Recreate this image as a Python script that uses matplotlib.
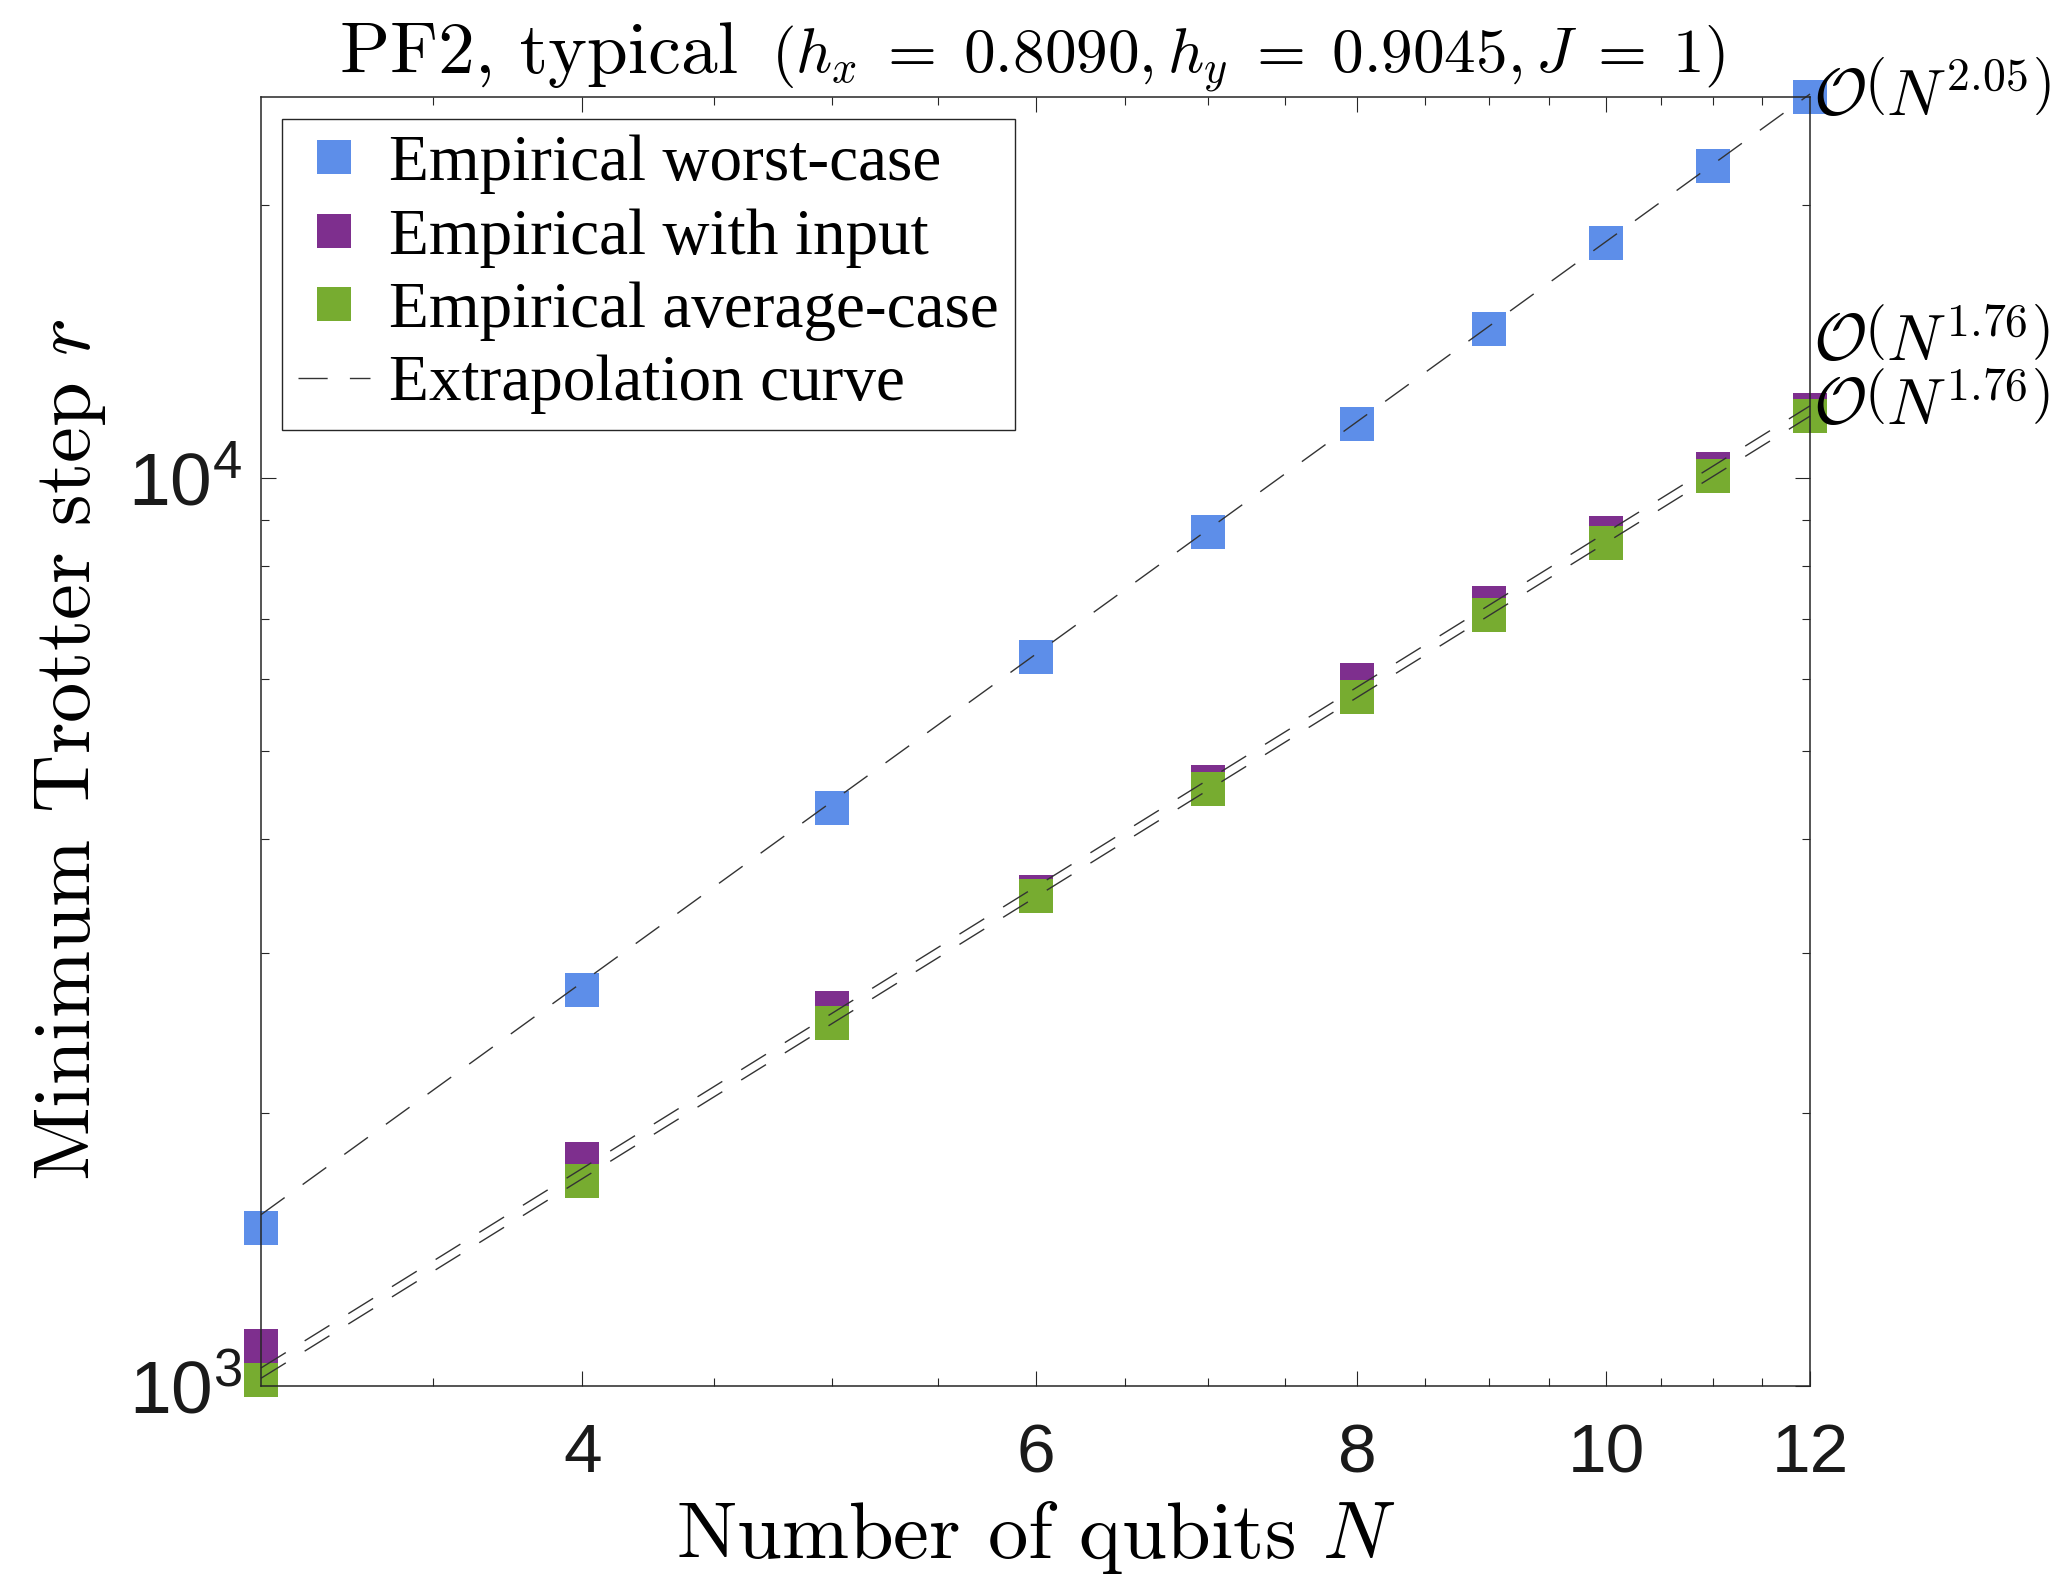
import matplotlib
matplotlib.use("Agg")
import numpy as np
import matplotlib.pyplot as plt
from matplotlib.lines import Line2D
from matplotlib.ticker import FixedLocator, FixedFormatter, NullFormatter

plt.rcParams["mathtext.fontset"] = "cm"
plt.rcParams["font.family"] = "Liberation Sans"
plt.rcParams["lines.scale_dashes"] = False

# data
N = [3, 4, 5, 6, 7, 8, 9, 10, 11, 12]
worst = [1493, 2728, 4332, 6357, 8727, 11467, 14590, 18136, 22063, 26300]
with_input = [1107, 1777, 2608, 3498, 4630, 5992, 7290, 8706, 10223, 11880]
average = [1016, 1681, 2509, 3461, 4549, 5742, 7062, 8479, 10043, 11710]

# power-law fits r = c * N^p
fit_coef = [162.4, 151.4, 147.5]
fit_exp = [2.05, 1.76, 1.76]
fit_text = [r"$\mathcal{O}\left(N^{2.05}\right)$",
            r"$\mathcal{O}\left(N^{1.76}\right)$",
            r"$\mathcal{O}\left(N^{1.76}\right)$"]
text_y = [26300, 14100, 12000]

labels = ["Empirical worst-case", "Empirical with input",
          "Empirical average-case", "Extrapolation curve"]
colors = ["#5D8EE9", "#7E2F8E", "#77AC30"]

x_major = [4, 6, 8, 10, 12]
x_minor = [3.5, 4.5, 5, 5.5, 6.5, 7, 7.5, 8.5, 9, 9.5, 10.5, 11, 11.5]
y_major = [1e3, 1e4]
y_minor = [2e3, 3e3, 4e3, 5e3, 6e3, 7e3, 8e3, 9e3, 2e4]

AX_COLOR = "#262626"
DASH = (0, (21, 16))
MS = 24.5

fig = plt.figure(figsize=(20.61, 15.75), dpi=100)
ax = fig.add_axes([0.12664, 0.12, 0.75158, 0.81841])
ax.set_xscale("log")
ax.set_yscale("log")

for series, c in zip([worst, with_input, average], colors):
    ax.plot(N, series, linestyle="none", marker="s", markersize=MS,
            markerfacecolor=c, markeredgewidth=0, color=c, clip_on=False)

n = np.array(N, dtype=float)
for c, p in zip(fit_coef, fit_exp):
    ax.plot(n, c * n ** p, color="#333333", lw=1.0, linestyle=DASH,
            clip_on=False)

for txt, yy in zip(fit_text, text_y):
    ax.text(12.03, yy, txt, fontsize=47, ha="left", va="center",
            clip_on=False)

ax.set_xlim(3, 12)
ax.set_ylim(1000, 26280)

ax.xaxis.set_major_locator(FixedLocator(x_major))
ax.xaxis.set_major_formatter(FixedFormatter([str(v) for v in x_major]))
ax.xaxis.set_minor_locator(FixedLocator(x_minor))
ax.xaxis.set_minor_formatter(NullFormatter())
ax.yaxis.set_major_locator(FixedLocator(y_major))
ax.yaxis.set_major_formatter(FixedFormatter([r"$\mathregular{10^{3}}$",
                                             r"$\mathregular{10^{4}}$"]))
ax.yaxis.set_minor_locator(FixedLocator(y_minor))
ax.yaxis.set_minor_formatter(NullFormatter())

ax.tick_params(which="both", direction="in", top=True, right=True,
               color=AX_COLOR, labelcolor="#1a1a1a")
ax.tick_params(which="major", length=11, width=0.8)
ax.tick_params(which="minor", length=5.5, width=0.8)
ax.tick_params(axis="x", which="major", pad=26, labelsize=50)
ax.tick_params(axis="y", which="major", pad=14, labelsize=54)
for s in ax.spines.values():
    s.set_color(AX_COLOR)
    s.set_linewidth(1.1)

ax.set_xlabel(r"Number of qubits $N$", fontsize=58, family="cmr10")
ax.xaxis.set_label_coords(0.5, -0.1334)
ax.xaxis.label.set_va("baseline")
ax.set_ylabel(r"Minimum Trotter step $r$", fontsize=58, family="cmr10")
ax.yaxis.set_label_coords(-0.099, 0.4934)

handles = [Line2D([], [], linestyle="none", marker="s", markersize=MS,
                  markerfacecolor=c, markeredgewidth=0) for c in colors]
handles.append(Line2D([], [], color="#333333", lw=1.0, linestyle=DASH))
leg = ax.legend(handles, labels, loc="upper left",
                bbox_to_anchor=(0.0136, 0.983), borderaxespad=0,
                prop={"family": "Liberation Serif", "size": 47},
                fancybox=False, framealpha=1, edgecolor=AX_COLOR,
                handlelength=1.1, handletextpad=0.3, borderpad=0.24,
                labelspacing=0.21)
leg.get_frame().set_linewidth(1.0)

# title in two sizes
t1 = fig.text(340 / 2061, 1 - 73 / 1575, "PF2, typical", fontsize=53,
              family="cmr10", ha="left", va="baseline")
fig.canvas.draw()
bb = t1.get_window_extent()
t2 = fig.text((bb.x1 + 33) / fig.bbox.width, 1 - 73 / 1575,
              r"$(h_x\;=\;0.8090,h_y\;=\;0.9045,J\;=\;1)$",
              fontsize=45.5, ha="left", va="baseline")

fig.savefig("out.png", dpi=100)
